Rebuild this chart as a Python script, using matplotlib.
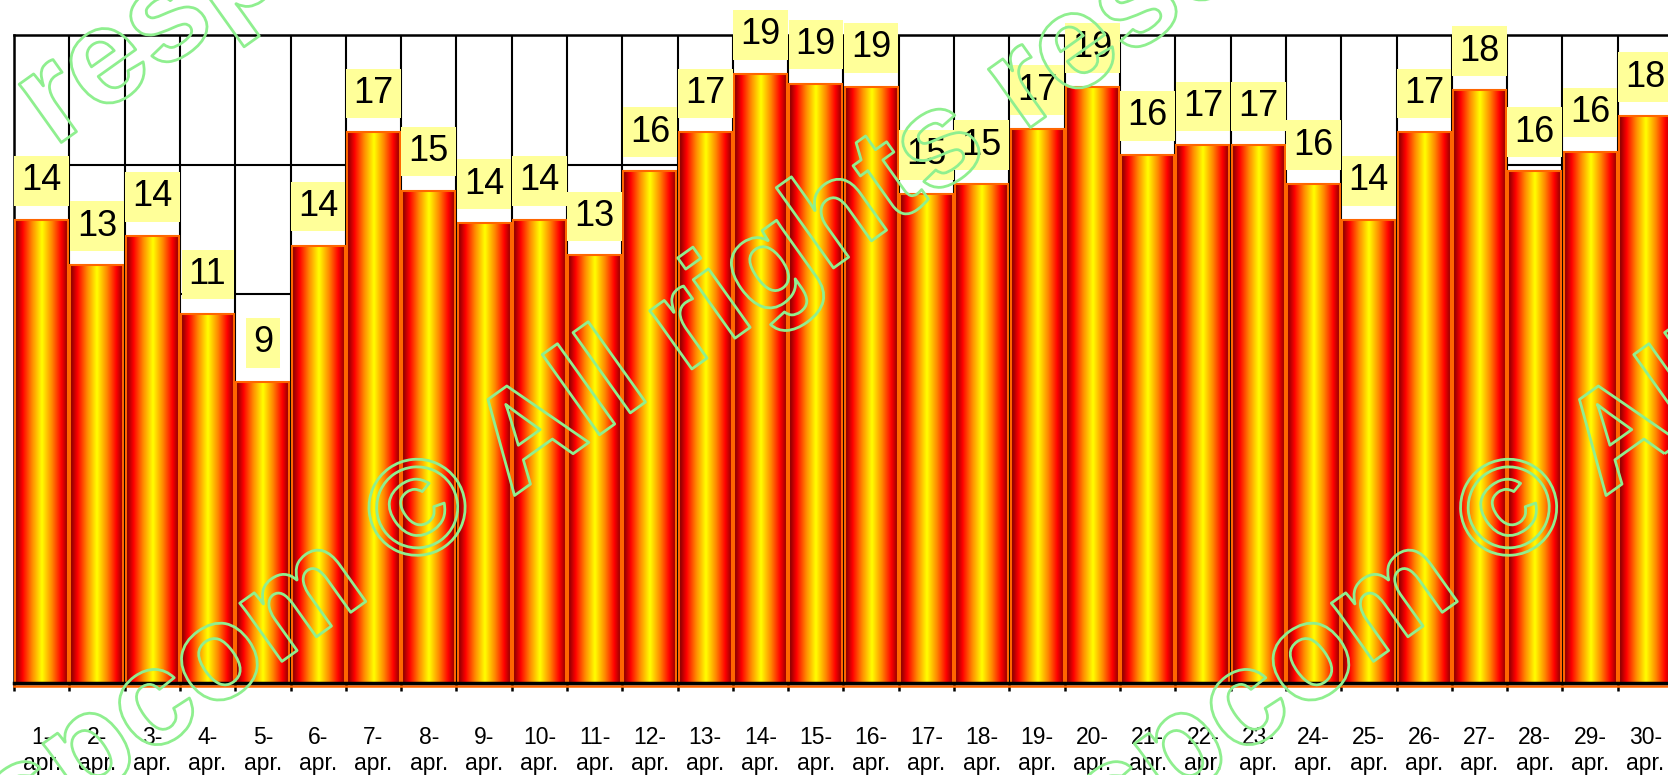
import numpy as np
import matplotlib
matplotlib.use("Agg")
import matplotlib.pyplot as plt
import matplotlib.patheffects as pe
from matplotlib.colors import LinearSegmentedColormap
from matplotlib.transforms import offset_copy

plt.rcParams['font.family'] = ['Liberation Sans', 'DejaVu Sans']

# dagen van april
dagen = ['1-\napr.', '2-\napr.', '3-\napr.', '4-\napr.', '5-\napr.', '6-\napr.',
         '7-\napr.', '8-\napr.', '9-\napr.', '10-\napr.', '11-\napr.', '12-\napr.',
         '13-\napr.', '14-\napr.', '15-\napr.', '16-\napr.', '17-\napr.', '18-\napr.',
         '19-\napr.', '20-\napr.', '21-\napr.', '22-\napr.', '23-\napr.', '24-\napr.',
         '25-\napr.', '26-\napr.', '27-\napr.', '28-\napr.', '29-\napr.', '30-\napr.']

hoogte = [14.3, 12.9, 13.8, 11.4, 9.3, 13.5, 17.0, 15.2, 14.2, 14.3,
          13.2, 15.8, 17.0, 18.8, 18.5, 18.4, 15.1, 15.4, 17.1, 18.4,
          16.3, 16.6, 16.6, 15.4, 14.3, 17.0, 18.3, 15.8, 16.4, 17.5]

# getoonde waarden in de gele labels
labels = [14, 13, 14, 11, 9, 14, 17, 15, 14, 14, 13, 16, 17, 19, 19,
          19, 15, 15, 17, 19, 16, 17, 17, 16, 14, 17, 18, 16, 16, 18]

y_ticks = [4, 8, 12, 16, 20]

fig = plt.figure(figsize=(16.68, 7.75), dpi=100)
ax = fig.add_axes([14 / 1668, 92 / 775, 1659 / 1668, 648 / 775])

x = np.arange(len(dagen))
bars = ax.bar(x, hoogte, width=0.96, facecolor='none', edgecolor='#FF6600',
              linewidth=1.5, zorder=3)

# verloop rood - geel - rood in elke staaf
cmap = LinearSegmentedColormap.from_list('vuur', [
    (0.0, '#7A0000'), (0.14, '#FF0000'), (0.32, '#FF8C00'), (0.5, '#FFFF00'),
    (0.68, '#FF8C00'), (0.86, '#FF0000'), (1.0, '#7A0000')])
grad = np.linspace(0, 1, 256).reshape(1, -1)
for b in bars:
    x0, w, h = b.get_x(), b.get_width(), b.get_height()
    im = ax.imshow(grad, cmap=cmap, aspect='auto', extent=(x0, x0 + w, 0, h),
                   interpolation='bilinear', zorder=2)
    im.set_clip_path(b)

ax.set_xlim(-0.5, len(dagen) - 0.5)
ax.set_ylim(0, 20)

# rasterlijnen
ax.set_yticks(y_ticks)
ax.set_yticklabels([])
ax.tick_params(axis='y', length=0)
ax.yaxis.grid(True, color='black', linewidth=1.5)
ax.set_xticks(x)
ax.set_xticklabels(dagen, fontsize=16.5, linespacing=1.15)
ax.set_xticks(np.arange(-0.5, len(dagen), 1), minor=True)
ax.xaxis.grid(True, which='minor', color='black', linewidth=1.5)
ax.tick_params(axis='x', which='major', length=0, pad=31)
ax.tick_params(axis='x', which='minor', length=6, width=1.8, color='black')
ax.set_axisbelow(True)

for s in ['top', 'left']:
    ax.spines[s].set_linewidth(1.8)
ax.spines['bottom'].set_linewidth(2.5)
ax.spines['bottom'].set_zorder(4)
ax.spines['right'].set_visible(False)

# oranje randje onder de as
ax.plot([0, 1], [0, 0], transform=offset_copy(ax.transAxes, fig, y=-3, units='dots'),
        color='#FF6600', linewidth=1.8, clip_on=False, zorder=3.5)

for xi, h, lab in zip(x, hoogte, labels):
    ax.annotate(str(lab), xy=(xi, h), xytext=(0, 28), textcoords='offset points',
                ha='center', va='center', fontsize=26, zorder=5,
                annotation_clip=False,
                bbox=dict(boxstyle='square,pad=0.2', fc='#FFFF99', ec='none'))

# watermerk
wm = 'respcom © All rights reserved'
for px, py in [(0.4066, 0.566), (1.061, 0.566), (0.4922, 1.57)]:
    fig.text(px, py, wm, rotation=35.5, rotation_mode='anchor', ha='center',
             va='center', fontsize=98, fontweight='bold', color=(1, 1, 1, 0),
             zorder=10,
             path_effects=[pe.Stroke(linewidth=2, foreground='#8FEF8F')])

fig.savefig('out.png', dpi=100)
